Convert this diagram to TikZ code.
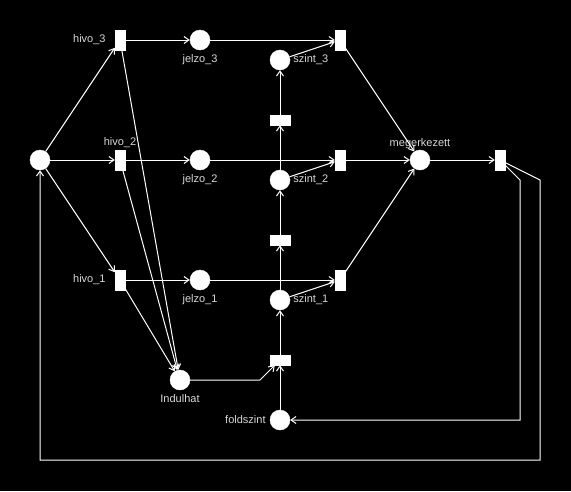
\documentclass[tikz,border=0pt]{standalone}
\usepackage{fontspec}
\setmainfont{Liberation Sans}
\usetikzlibrary{arrows.meta,positioning}
\definecolor{lbltxt}{RGB}{215,215,215}

\begin{document}
\begin{tikzpicture}[x=1pt,y=-1pt,>={Straight Barb[length=5pt,width=7pt]},
  every node/.style={font=\fontsize{11}{13}\selectfont},
  place/.style={circle,draw=white,fill=white,minimum size=20pt,inner sep=0pt},
  trans/.style={rectangle,draw=white,fill=white,minimum width=10pt,minimum height=20pt,inner sep=0pt},
  lepes/.style={trans,minimum width=20pt,minimum height=10pt},
  lbl/.style={text=lbltxt,inner sep=1pt},
  arc/.style={->,draw=white,line width=1pt}]
\fill[black] (0,0) rectangle (571,491);
\useasboundingbox (0,0) rectangle (571,491);
% places and transitions
\node[place] (start) at (40,160) {};
\node[trans,label={[lbl,label distance=8pt]left:hivo\_3}] (hivo3) at (120,40) {};
\node[trans,label={[lbl,label distance=1pt]above:hivo\_2}] (hivo2) at (120,160) {};
\node[trans,label={[lbl,label distance=8pt]left:hivo\_1}] (hivo1) at (120,280) {};
\node[place,label={[lbl,label distance=3pt]below:jelzo\_3}] (jelzo3) at (200,40) {};
\node[place,label={[lbl,label distance=3pt]below:jelzo\_2}] (jelzo2) at (200,160) {};
\node[place,label={[lbl,label distance=3pt]below:jelzo\_1}] (jelzo1) at (200,280) {};
\node[place,label={[lbl,label distance=2pt]right:szint\_3}] (szint3) at (280,60) {};
\node[place,label={[lbl,label distance=2pt]right:szint\_2}] (szint2) at (280,180) {};
\node[place,label={[lbl,label distance=2pt]right:szint\_1}] (szint1) at (280,300) {};
\node[lepes] (lep3) at (280,120) {};
\node[lepes] (lep2) at (280,240) {};
\node[lepes] (lep1) at (280,360) {};
\node[trans] (erk3) at (340,40) {};
\node[trans] (erk2) at (340,160) {};
\node[trans] (erk1) at (340,280) {};
\node[place,label={[lbl]above:megerkezett}] (meg) at (420,160) {};
\node[trans] (kilep) at (500,160) {};
\node[place,label={[lbl,label distance=3pt]below:Indulhat}] (indul) at (180,380) {};
\node[place,label={[lbl,label distance=3pt]left:foldszint}] (fold) at (280,420) {};
% arcs
\foreach \i in {1,2,3}{
  \draw[arc] (start) -- (hivo\i);
  \draw[arc] (hivo\i) -- (jelzo\i);
  \draw[arc] (hivo\i) -- (indul);
  \draw[arc] (jelzo\i) -- (erk\i);
  \draw[arc] (szint\i) -- (erk\i);
  \draw[arc] (erk\i) -- (meg);
  \draw[arc] (lep\i) -- (szint\i);
}
\draw[arc] (fold) -- (lep1);
\draw[arc] (szint1) -- (lep2);
\draw[arc] (szint2) -- (lep3);
\draw[arc] (indul) -- (260,380) -- (lep1);
\draw[arc] (meg) -- (kilep);
\draw[arc] (kilep) -- (520,180) -- (520,420) -- (fold);
\draw[arc] (kilep) -- (540,180) -- (540,460) -- (40,460) -- (start);
\end{tikzpicture}
\end{document}
